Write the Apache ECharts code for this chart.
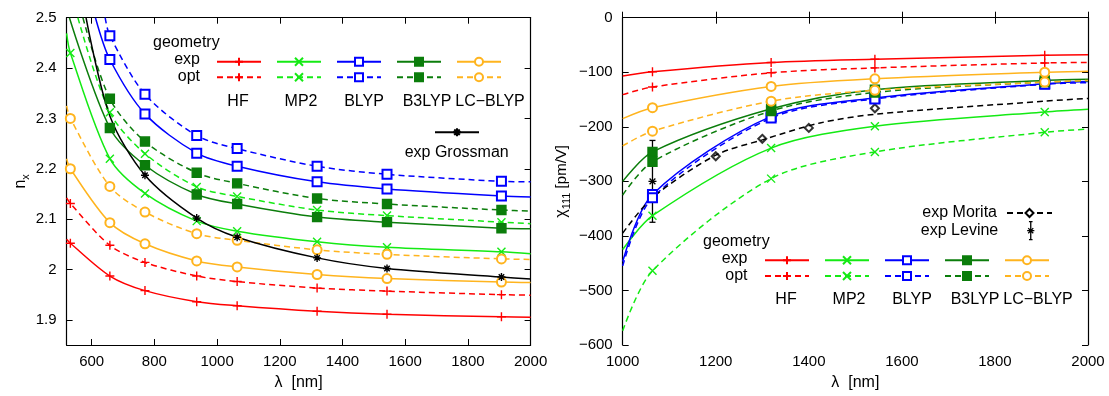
<!DOCTYPE html>
<html>
<head>
<meta charset="utf-8">
<script src="https://cdn.jsdelivr.net/npm/echarts@6/dist/echarts.min.js"></script>
<style>
  html, body { margin: 0; padding: 0; background: #fff; }
  #chart { width: 1109px; height: 396px; }
</style>
</head>
<body>
<div id="chart"></div>
<script>
// ---- left panel: refractive index n_x vs wavelength ----
const lamL = [532, 658, 770, 935, 1064, 1319, 1542, 1907];
const nHfExp    = [2.052, 1.987, 1.958, 1.936, 1.928, 1.917, 1.911, 1.906];
const nHfOpt    = [2.131, 2.048, 2.014, 1.987, 1.976, 1.963, 1.957, 1.950];
const nMp2Exp   = [2.430, 2.220, 2.151, 2.096, 2.076, 2.055, 2.044, 2.035];
const nMp2Opt   = [null, 2.312, 2.230, 2.164, 2.145, 2.118, 2.107, 2.094];
const nBlypExp  = [null, 2.417, 2.309, 2.231, 2.205, 2.174, 2.160, 2.146];
const nBlypOpt  = [null, 2.464, 2.348, 2.266, 2.240, 2.205, 2.189, 2.175];
const nB3lypExp = [null, 2.281, 2.207, 2.149, 2.130, 2.104, 2.094, 2.082];
const nB3lypOpt = [null, 2.339, 2.254, 2.192, 2.171, 2.141, 2.130, 2.118];
const nLcExp    = [2.200, 2.093, 2.051, 2.017, 2.005, 1.990, 1.982, 1.975];
const nLcOpt    = [2.300, 2.165, 2.114, 2.071, 2.058, 2.039, 2.030, 2.021];
const lamGross  = [770, 935, 1064, 1319, 1542, 1907];
const nGross    = [2.187, 2.102, 2.064, 2.023, 2.002, 1.985];
// where each fitted curve enters the frame, and its value at 2000 nm
// order: HF exp, HF opt, MP2 exp, MP2 opt, BLYP exp, BLYP opt, B3LYP exp, B3LYP opt, LC exp, LC opt, Grossman
const nCurveStart = [[520, 2.060], [520, 2.142], [520, 2.469], [556, 2.5], [612, 2.5], [643, 2.5],
                     [529, 2.5], [572, 2.5], [520, 2.220], [520, 2.325], [582, 2.5]];
const nCurveEnd   = [1.905, 1.949, 2.031, 2.091, 2.144, 2.174, 2.081, 2.116, 1.974, 2.020, 1.981];
const nGrossExtra = [[658, 2.305]];
const nTicksX = [600, 800, 1000, 1200, 1400, 1600, 1800, 2000];
const nTicksY = [1.9, 2, 2.1, 2.2, 2.3, 2.4, 2.5];

// ---- right panel: chi_111 vs wavelength ----
const lamR = [1064, 1319, 1542, 1907];
const chiHfExp    = [-99, -82, -76, -69];
const chiHfOpt    = [-127, -101, -92, -83];
const chiMp2Exp   = [-363, -239, -199, -173];
const chiMp2Opt   = [-464, -295, -246, -210];
const chiBlypExp  = [-324, -181, -147, -121];
const chiBlypOpt  = [-330, -184, -149, -122];
const chiB3lypExp = [-246, -167, -132, -115];
const chiB3lypOpt = [-264, -171, -137, -118];
const chiLcExp    = [-165, -126, -112, -100];
const chiLcOpt    = [-208, -153, -133, -118];
const chiCurveStart = [-107, -141, -425, -574, -447, -455, -300, -325, -185, -235]; // at 1000 nm
const chiCurveEnd   = [-68, -82, -168, -204, -117, -119, -113, -116, -98, -115];    // at 2000 nm
const lamMorita = [1200, 1300, 1400, 1542];
const chiMorita = [-254, -222, -202, -166];
const lamMoritaFit = [1000, 1064, 1200, 1300, 1424, 1542, 1907, 2000];
const chiMoritaFit = [-395, -330, -252, -224, -193, -177, -153, -148];
const levine = [[1064, -300, -225, -375]]; // lambda, value, upper, lower

const FONT = '"Liberation Sans", Arial, Helvetica, sans-serif';
const RED = '#ff0000', GREEN = '#14ea14', BLUE = '#0000ff', DKGREEN = '#0b7d0b', ORANGE = '#ffb41e';

const PLUS = 'path://M0,5L10,5M5,0L5,10';
const CROSS = 'path://M0,0L10,10M10,0L0,10';
const STAR = 'path://M0,5L10,5M5,0L5,10M1.6,1.6L8.4,8.4M8.4,1.6L1.6,8.4';

const methods = [
  { key: 'HF',      color: RED,     symbol: PLUS,          size: 9 },
  { key: 'MP2',     color: GREEN,   symbol: CROSS,         size: 8 },
  { key: 'BLYP',    color: BLUE,    symbol: 'emptyRect',   size: 9 },
  { key: 'B3LYP',   color: DKGREEN, symbol: 'rect',        size: 9 },
  { key: 'LC-BLYP', color: ORANGE,  symbol: 'emptyCircle', size: 9 }
];

function curve(name, m, dashed, pts, xi, yi) {
  return {
    type: 'line', name: name, xAxisIndex: xi, yAxisIndex: yi,
    data: pts.sort((a, b) => a.value[0] - b.value[0]),
    smooth: 0.3,
    symbol: m.symbol, symbolSize: m.size,
    lineStyle: { color: m.color, width: 1.5, type: dashed ? [6, 4] : 'solid' },
    itemStyle: { color: m.color, borderColor: m.color, borderWidth: 1.4 },
    emphasis: { disabled: true },
    animation: false
  };
}

function pointsOf(lams, vals, start, end, extra) {
  const pts = [{ value: start, symbol: 'none' }];
  lams.forEach((l, i) => { if (vals[i] != null) pts.push({ value: [l, vals[i]] }); });
  (extra || []).forEach(p => pts.push({ value: p, symbol: 'none' }));
  pts.push({ value: [2000, end], symbol: 'none' });
  return pts;
}

const nSets = [nHfExp, nHfOpt, nMp2Exp, nMp2Opt, nBlypExp, nBlypOpt, nB3lypExp, nB3lypOpt, nLcExp, nLcOpt];
const chiSets = [chiHfExp, chiHfOpt, chiMp2Exp, chiMp2Opt, chiBlypExp, chiBlypOpt, chiB3lypExp, chiB3lypOpt, chiLcExp, chiLcOpt];

const series = [];
nSets.forEach((vals, i) => {
  const m = methods[Math.floor(i / 2)];
  const geo = i % 2 === 0 ? 'exp' : 'opt';
  series.push(curve('n ' + m.key + ' ' + geo, m, geo === 'opt',
    pointsOf(lamL, vals, nCurveStart[i], nCurveEnd[i]), 0, 0));
});
series.push(curve('exp Grossman', { color: '#000', symbol: STAR, size: 8 }, false,
  pointsOf(lamGross, nGross, nCurveStart[10], nCurveEnd[10], nGrossExtra), 0, 0));

chiSets.forEach((vals, i) => {
  const m = methods[Math.floor(i / 2)];
  const geo = i % 2 === 0 ? 'exp' : 'opt';
  series.push(curve('χ ' + m.key + ' ' + geo, m, geo === 'opt',
    pointsOf(lamR, vals, [1000, chiCurveStart[i]], chiCurveEnd[i]), 2, 2));
});
// Morita fit line (legend entry) + measured points
const moritaFit = curve('exp Morita', { color: '#000', symbol: 'emptyDiamond', size: 8 }, true,
  lamMoritaFit.map((l, i) => ({ value: [l, chiMoritaFit[i]], symbol: 'none' })), 2, 2);
moritaFit.itemStyle.borderWidth = 1.2;
series.push(moritaFit);
series.push({
  type: 'scatter', name: 'Morita points', xAxisIndex: 2, yAxisIndex: 2,
  data: lamMorita.map((l, i) => [l, chiMorita[i]]),
  symbol: 'emptyDiamond', symbolSize: 8,
  itemStyle: { color: '#000', borderColor: '#000', borderWidth: 1.2 },
  emphasis: { disabled: true }, animation: false
});
series.push({
  type: 'custom', name: 'exp Levine', xAxisIndex: 2, yAxisIndex: 2,
  data: levine,
  renderItem: function (params, api) {
    const c = api.coord([api.value(0), api.value(1)]);
    const hi = api.coord([api.value(0), api.value(2)]);
    const lo = api.coord([api.value(0), api.value(3)]);
    const st = { stroke: '#000', lineWidth: 1.3 };
    const w = 3, s = 4, d = 2.9;
    return {
      type: 'group', children: [
        { type: 'line', shape: { x1: c[0], y1: hi[1], x2: c[0], y2: lo[1] }, style: st },
        { type: 'line', shape: { x1: c[0] - w, y1: hi[1], x2: c[0] + w, y2: hi[1] }, style: st },
        { type: 'line', shape: { x1: c[0] - w, y1: lo[1], x2: c[0] + w, y2: lo[1] }, style: st },
        { type: 'line', shape: { x1: c[0] - s, y1: c[1], x2: c[0] + s, y2: c[1] }, style: st },
        { type: 'line', shape: { x1: c[0] - d, y1: c[1] - d, x2: c[0] + d, y2: c[1] + d }, style: st },
        { type: 'line', shape: { x1: c[0] + d, y1: c[1] - d, x2: c[0] - d, y2: c[1] + d }, style: st }
      ]
    };
  },
  animation: false
});

const plain = v => String(v);
const labelStyle = { color: '#000', fontFamily: FONT, fontSize: 15, formatter: plain };
const tick = { show: true, inside: true, length: 6, lineStyle: { color: '#000', width: 1 } };
const axLine = { show: true, lineStyle: { color: '#000', width: 1.2 } };

function xAx(grid, pos, min, max, extra) {
  return Object.assign({
    type: 'value', gridIndex: grid, position: pos, min: min, max: max,
    axisLine: axLine, splitLine: { show: false },
    axisTick: tick, axisLabel: Object.assign({ show: pos === 'bottom', margin: 9 }, labelStyle)
  }, extra || {});
}

const chiFmt = v => String(v).replace('-', '\u2212');

const option = {
  animation: false,
  backgroundColor: '#fff',
  grid: [
    { left: 66.6, top: 17.7, width: 464, height: 330 },
    { left: 622.7, top: 17.7, width: 465.3, height: 330 }
  ],
  xAxis: [
    xAx(0, 'bottom', 520, 2000, {
      name: 'λ  [nm]', nameLocation: 'middle', nameGap: 30,
      nameTextStyle: { color: '#000', fontFamily: FONT, fontSize: 16 },
      axisTick: Object.assign({ customValues: nTicksX }, tick),
      axisLabel: Object.assign({ customValues: nTicksX, margin: 9 }, labelStyle)
    }),
    xAx(0, 'top', 520, 2000, { axisTick: Object.assign({ customValues: nTicksX }, tick), axisLabel: { show: false } }),
    xAx(1, 'bottom', 1000, 2000, {
      interval: 200,
      name: 'λ  [nm]', nameLocation: 'middle', nameGap: 30,
      nameTextStyle: { color: '#000', fontFamily: FONT, fontSize: 16 }
    }),
    xAx(1, 'top', 1000, 2000, { interval: 200, axisLabel: { show: false } })
  ],
  yAxis: [
    {
      type: 'value', gridIndex: 0, position: 'left', min: 1.85, max: 2.5,
      axisLine: axLine, splitLine: { show: false },
      axisTick: Object.assign({ customValues: nTicksY }, tick),
      axisLabel: Object.assign({ customValues: nTicksY, margin: 10 }, labelStyle),
      name: '{i|n}{s|x}', nameLocation: 'middle', nameGap: 34, nameRotate: 90,
      nameTextStyle: {
        color: '#000', fontFamily: FONT,
        rich: {
          i: { fontSize: 16, fontFamily: FONT, color: '#000', lineHeight: 22 },
          s: { fontSize: 11, fontFamily: FONT, color: '#000', lineHeight: 22, verticalAlign: 'bottom' }
        }
      }
    },
    {
      type: 'value', gridIndex: 0, position: 'right', min: 1.85, max: 2.5,
      axisLine: axLine, splitLine: { show: false },
      axisTick: Object.assign({ customValues: nTicksY }, tick), axisLabel: { show: false }
    },
    {
      type: 'value', gridIndex: 1, position: 'left', min: -600, max: 0, interval: 100,
      axisLine: axLine, splitLine: { show: false }, axisTick: tick,
      axisLabel: Object.assign({}, labelStyle, { margin: 10, formatter: chiFmt }),
      name: '{c|χ}{s|111} [pm/V]', nameLocation: 'middle', nameGap: 50, nameRotate: 90,
      nameTextStyle: {
        color: '#000', fontFamily: FONT, fontSize: 15,
        rich: {
          c: { fontSize: 16, fontFamily: FONT, color: '#000', lineHeight: 22 },
          s: { fontSize: 11, fontFamily: FONT, color: '#000', lineHeight: 22, verticalAlign: 'bottom' }
        }
      }
    },
    {
      type: 'value', gridIndex: 1, position: 'right', min: -600, max: 0, interval: 100,
      axisLine: axLine, splitLine: { show: false }, axisTick: tick, axisLabel: { show: false }
    }
  ],
  legend: [
    rowLegend(['n HF exp', 'n MP2 exp', 'n BLYP exp', 'n B3LYP exp', 'n LC-BLYP exp'], 216, 56.7),
    rowLegend(['n HF opt', 'n MP2 opt', 'n BLYP opt', 'n B3LYP opt', 'n LC-BLYP opt'], 216, 72.3),
    rowLegend(['exp Grossman'], 434, 127.3),
    rowLegend(['χ HF exp', 'χ MP2 exp', 'χ BLYP exp', 'χ B3LYP exp', 'χ LC-BLYP exp'], 764, 255.3),
    rowLegend(['χ HF opt', 'χ MP2 opt', 'χ BLYP opt', 'χ B3LYP opt', 'χ LC-BLYP opt'], 764, 271),
    {
      data: ['exp Morita'], right: 56, top: 205, align: 'right', padding: 0,
      itemWidth: 45, itemHeight: 10, selectedMode: false,
      textStyle: { color: '#000', fontFamily: FONT, fontSize: 16, padding: [0, 5, 0, 0] }
    },
    {
      data: [{
        name: 'exp Levine',
        icon: 'path://M3,0L7,0M5,0L5,20M3,20L7,20M1,10L9,10M2.2,7.2L7.8,12.8M7.8,7.2L2.2,12.8',
        itemStyle: { color: 'rgba(0,0,0,0)', borderColor: '#000', borderWidth: 1.3 }
      }],
      right: 74, top: 221, align: 'right', padding: 0,
      itemWidth: 9, itemHeight: 18, selectedMode: false,
      textStyle: { color: '#000', fontFamily: FONT, fontSize: 16, padding: [0, 23, 0, 0] }
    }
  ],
  graphic: [
    txt('geometry', 153, 43, 'left'),
    txt('exp', 200, 59.5, 'right'),
    txt('opt', 200, 76.7, 'right'),
    txt('HF', 238, 101.7, 'center'),
    txt('MP2', 301, 101.7, 'center'),
    txt('BLYP', 364, 101.7, 'center'),
    txt('B3LYP', 427, 101.7, 'center'),
    txt('LC\u2212BLYP', 490, 101.7, 'center'),
    txt('exp Grossman', 456.7, 152.7, 'center'),
    txt('geometry', 703, 241.7, 'left'),
    txt('exp', 747.5, 258.3, 'right'),
    txt('opt', 747.5, 276, 'right'),
    txt('HF', 786, 300, 'center'),
    txt('MP2', 849, 300, 'center'),
    txt('BLYP', 912, 300, 'center'),
    txt('B3LYP', 975, 300, 'center'),
    txt('LC\u2212BLYP', 1038, 300, 'center')
  ],
  series: series
};

function rowLegend(names, left, top) {
  return {
    data: names, left: left, top: top, orient: 'horizontal', padding: 0,
    itemWidth: 44, itemHeight: 10, itemGap: 14, selectedMode: false,
    formatter: function () { return ''; },
    textStyle: { fontSize: 1 }
  };
}

function txt(s, x, y, align) {
  return {
    type: 'text', x: x, y: y, silent: true,
    style: { text: s, font: '16px ' + FONT, fill: '#000', align: align, verticalAlign: 'middle' }
  };
}

const chart = echarts.init(document.getElementById('chart'));
chart.setOption(option);
</script>
</body>
</html>
